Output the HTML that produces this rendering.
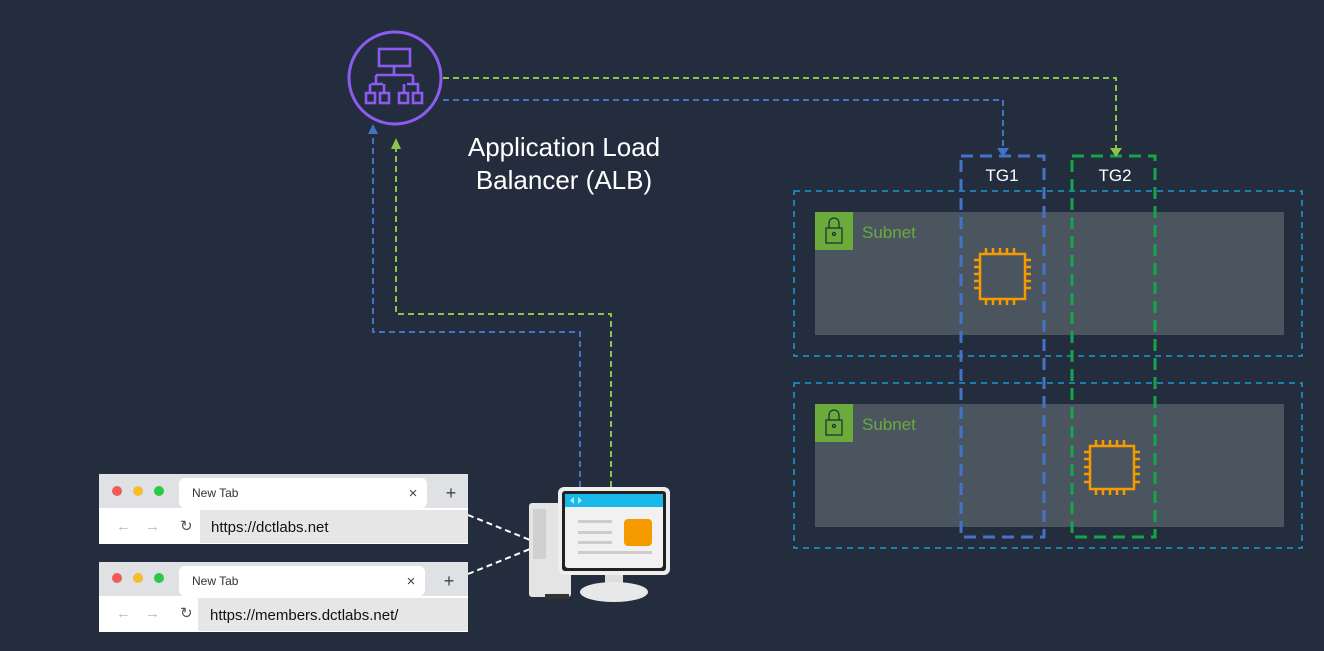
<!DOCTYPE html>
<html><head><meta charset="utf-8"><style>
html,body{margin:0;padding:0;background:#232d3d;width:1324px;height:651px;overflow:hidden}
svg{display:block}
</style></head><body>
<svg width="1324" height="651" viewBox="0 0 1324 651" xmlns="http://www.w3.org/2000/svg" font-family="Liberation Sans, sans-serif">
<rect width="1324" height="651" fill="#232d3d"/>
<!-- subnets -->
<rect x="794" y="191" width="508" height="165" fill="none" stroke="#1a9bd0" stroke-width="1.5" stroke-dasharray="6,5"/>
<rect x="815" y="212" width="469" height="123" fill="#4a5560"/>
<rect x="815" y="212" width="38" height="38" fill="#6aab3c"/>
<text x="862" y="238" font-size="17" fill="#6aab3c">Subnet</text>
<rect x="794" y="383" width="508" height="165" fill="none" stroke="#1a9bd0" stroke-width="1.5" stroke-dasharray="6,5"/>
<rect x="815" y="404" width="469" height="123" fill="#4a5560"/>
<rect x="815" y="404" width="38" height="38" fill="#6aab3c"/>
<text x="862" y="430" font-size="17" fill="#6aab3c">Subnet</text>
<!-- locks -->
<g fill="none" stroke="#233" stroke-width="1.3">
<rect x="826" y="228" width="16" height="15"/><path d="M829 228v-5a5 5 0 0 1 10 0v5"/><circle cx="834" cy="234" r="1.5"/>
<rect x="826" y="420" width="16" height="15"/><path d="M829 420v-5a5 5 0 0 1 10 0v5"/><circle cx="834" cy="426" r="1.5"/>
</g>
<!-- chips -->
<g fill="none" stroke="#f59b00" stroke-width="2.5">
<rect x="980" y="254" width="45" height="45"/>
<path d="M986 254v-6M993 254v-6M1000 254v-6M1007 254v-6M1014 254v-6M986 299v6M993 299v6M1000 299v6M1007 299v6M1014 299v6M980 260h-6M980 267h-6M980 274h-6M980 281h-6M980 288h-6M1025 260h6M1025 267h6M1025 274h6M1025 281h6M1025 288h6"/>
<rect x="1090" y="446" width="44" height="43"/>
<path d="M1096 446v-6M1103 446v-6M1110 446v-6M1117 446v-6M1124 446v-6M1096 489v6M1103 489v6M1110 489v6M1117 489v6M1124 489v6M1090 452h-6M1090 459h-6M1090 467h-6M1090 474h-6M1090 482h-6M1134 452h6M1134 459h6M1134 467h6M1134 474h6M1134 482h6"/>
</g>
<!-- TG boxes -->
<rect x="961" y="156" width="83" height="381" fill="none" stroke="#4472c4" stroke-width="3" stroke-dasharray="12,7"/>
<rect x="1072" y="156" width="83" height="381" fill="none" stroke="#12a64a" stroke-width="3" stroke-dasharray="12,7"/>
<text x="1002" y="181" font-size="17" fill="#fff" text-anchor="middle">TG1</text>
<text x="1115" y="181" font-size="17" fill="#fff" text-anchor="middle">TG2</text>
<!-- connectors -->
<g fill="none" stroke-width="2" stroke-dasharray="6,4">
<path d="M443 78H1116V150" stroke="#8cc34a"/>
<path d="M443 100H1003V150" stroke="#4472c4"/>
<path d="M580 487V332H373V135" stroke="#4472c4"/>
<path d="M611 487V314H396V145" stroke="#8cc34a"/>
</g>
<path d="M1110 148h12l-6 9z" fill="#8cc34a"/>
<path d="M997 148h12l-6 9z" fill="#4472c4"/>
<path d="M368 134h10l-5-10z" fill="#4472c4"/>
<path d="M391 149h10l-5-11z" fill="#8cc34a"/>
<!-- ALB -->
<circle cx="395" cy="78" r="46" fill="none" stroke="#8c5cf0" stroke-width="3"/>
<g fill="none" stroke="#8c5cf0" stroke-width="2.6">
<rect x="379" y="49" width="31" height="17"/>
<path d="M394 66v9M376 75h37M376 75v9M413 75v9"/>
<path d="M371 84h12M407 84h12"/>
<rect x="366" y="93" width="9" height="10"/><rect x="380" y="93" width="9" height="10"/>
<rect x="399" y="93" width="9" height="10"/><rect x="413" y="93" width="9" height="10"/>
<path d="M370 93v-9M384 93v-9M404 93v-9M418 93v-9"/>
</g>
<text x="564" y="156" font-size="26" fill="#fff" text-anchor="middle">Application Load</text>
<text x="564" y="189" font-size="26" fill="#fff" text-anchor="middle">Balancer (ALB)</text>
<!-- dashed white lines -->
<g stroke="#fff" stroke-width="2" stroke-dasharray="6,4"><path d="M468 515L530 540"/><path d="M468 574L530 549"/></g>
<!-- browser 1 -->
<rect x="99" y="474" width="369" height="70" fill="#fff"/>
<rect x="99" y="474" width="369" height="34" fill="#dfe1e5"/>
<rect x="179" y="478" width="248" height="30" rx="6" fill="#fff"/>
<circle cx="117" cy="491" r="5" fill="#f05a57"/><circle cx="138" cy="491" r="5" fill="#f6bd2b"/><circle cx="159" cy="491" r="5" fill="#2cc844"/>
<text x="192" y="497" font-size="12" fill="#333">New Tab</text>
<text x="413" y="498" font-size="15" fill="#444" text-anchor="middle">×</text>
<text x="451" y="499" font-size="18" fill="#444" text-anchor="middle">+</text>
<text x="116" y="531" font-size="15" fill="#bbb">←</text><text x="145" y="531" font-size="15" fill="#bbb">→</text><text x="180" y="531" font-size="15" fill="#555">↻</text>
<rect x="200" y="510" width="268" height="33" fill="#e6e6e6"/>
<text x="211" y="532" font-size="15" fill="#111">https://dctlabs.net</text>
<!-- browser 2 -->
<rect x="99" y="562" width="369" height="70" fill="#fff"/>
<rect x="99" y="562" width="369" height="34" fill="#dfe1e5"/>
<rect x="179" y="566" width="246" height="30" rx="6" fill="#fff"/>
<circle cx="117" cy="578" r="5" fill="#f05a57"/><circle cx="138" cy="578" r="5" fill="#f6bd2b"/><circle cx="159" cy="578" r="5" fill="#2cc844"/>
<text x="192" y="585" font-size="12" fill="#333">New Tab</text>
<text x="411" y="586" font-size="15" fill="#444" text-anchor="middle">×</text>
<text x="449" y="587" font-size="18" fill="#444" text-anchor="middle">+</text>
<text x="116" y="618" font-size="15" fill="#bbb">←</text><text x="145" y="618" font-size="15" fill="#bbb">→</text><text x="180" y="618" font-size="15" fill="#555">↻</text>
<rect x="198" y="598" width="270" height="33" fill="#e6e6e6"/>
<text x="210" y="620" font-size="15" fill="#111">https://members.dctlabs.net/</text>
<!-- computer -->
<rect x="529" y="503" width="42" height="94" rx="3" fill="#e4e4e4"/>
<rect x="533" y="509" width="13" height="50" fill="#d0d0d0"/>
<rect x="545" y="594" width="24" height="5" fill="#333"/>
<rect x="558" y="487" width="112" height="88" rx="6" fill="#eee"/>
<rect x="562" y="491" width="104" height="80" rx="3" fill="#222"/>
<rect x="565" y="494" width="98" height="74" rx="3" fill="#f1f1f1"/>
<rect x="565" y="494" width="98" height="13" fill="#1ab7ea"/>
<path d="M574 497l-4 3.5 4 3.5zM578 497l4 3.5-4 3.5z" fill="#aee"/>
<rect x="624" y="519" width="28" height="27" rx="4" fill="#f59b00"/>
<g fill="#ccc"><rect x="578" y="520" width="34" height="3"/><rect x="578" y="531" width="34" height="3"/><rect x="578" y="541" width="34" height="3"/><rect x="578" y="551" width="74" height="3"/></g>
<rect x="605" y="575" width="18" height="12" fill="#ddd"/>
<ellipse cx="614" cy="592" rx="34" ry="10" fill="#e8e8e8"/>
</svg>
</body></html>
